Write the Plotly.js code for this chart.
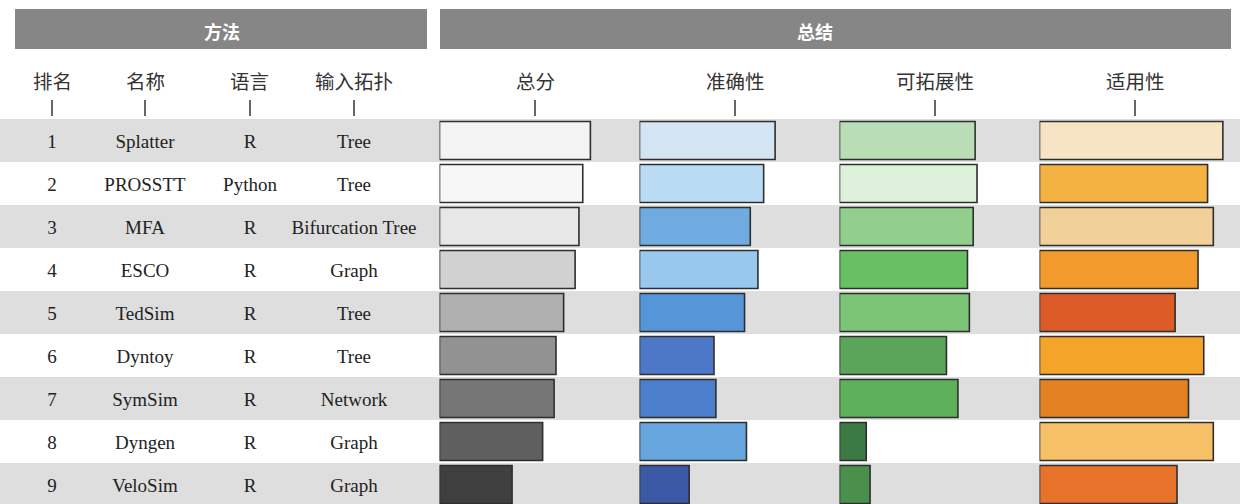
<!DOCTYPE html>
<html>
<head>
<meta charset="utf-8">
<script src="https://cdn.plot.ly/plotly-3.0.1.min.js"></script>
<style>html,body{margin:0;padding:0;background:#fff;}#chart{width:1240px;height:504px;}</style>
</head>
<body>
<div id="chart"></div>
<script>
// ---------- data ----------
const ranks = [1, 2, 3, 4, 5, 6, 7, 8, 9];
const names = ["Splatter", "PROSSTT", "MFA", "ESCO", "TedSim", "Dyntoy", "SymSim", "Dyngen", "VeloSim"];
const languages = ["R", "Python", "R", "R", "R", "R", "R", "R", "R"];
const topologies = ["Tree", "Tree", "Bifurcation Tree", "Graph", "Tree", "Tree", "Network", "Graph", "Graph"];

const overall     = [0.79, 0.75, 0.73, 0.71, 0.65, 0.61, 0.60, 0.54, 0.38];
const accuracy    = [0.71, 0.65, 0.58, 0.62, 0.55, 0.39, 0.40, 0.56, 0.26];
const scalability = [0.71, 0.72, 0.70, 0.67, 0.68, 0.56, 0.62, 0.14, 0.16];
const usability   = [0.96, 0.88, 0.91, 0.83, 0.71, 0.86, 0.78, 0.91, 0.72];

const groupLabels = ["方法", "总结"];
const methodHeaders = ["排名", "名称", "语言", "输入拓扑"];
const summaryHeaders = ["总分", "准确性", "可拓展性", "适用性"];

// ---------- styles ----------
const overallColors     = ["#f3f3f3", "#f7f7f7", "#e8e7e8", "#d1d1d1", "#b0b0b0", "#929292", "#767677", "#5f5f60", "#3f3f40"];
const accuracyColors    = ["#d3e4f3", "#b9dbf3", "#6faae0", "#98c8ed", "#5596d9", "#4d78c8", "#4b7ecb", "#66a5dd", "#3c59a6"];
const scalabilityColors = ["#b9ddb4", "#def1db", "#92cf8c", "#68c062", "#7dc576", "#5aa55a", "#5db15b", "#3c7a43", "#4a8f4c"];
const usabilityColors   = ["#f6e4c5", "#f4b243", "#f1d09a", "#f29a2b", "#dc5b27", "#f5a42a", "#e38123", "#f6c066", "#e7722a"];

const W = 1240, H = 504;
const methodColX = [52, 145, 250, 354];          // pixel centres of text columns
const barStart = [439.5, 639.5, 839.5, 1039.5];  // pixel starts of bar columns
const barFull = 191;                              // pixels for value 1
const rowTop = 119, rowH = 43;
const textDrop = 0.06;                            // row-text baseline nudge (rows)
const serif = "Liberation Serif, Times New Roman, serif";
const cjk = "Noto Sans CJK SC, sans-serif";

const py = p => 1 - p / H;
const yAt = p => 1 + (p - (rowTop + rowH / 2)) / rowH;

const traces = [];
const textCols = [ranks.map(String), names, languages, topologies];
textCols.forEach((col, i) => {
  traces.push({
    type: "scatter", mode: "text", xaxis: "x", yaxis: "y",
    x: ranks.map(() => methodColX[i]), y: ranks.map(r => r + textDrop), text: col,
    textposition: "middle center",
    textfont: {family: serif, size: 19, color: "#222"},
    hoverinfo: "skip"
  });
});

const series = [overall, accuracy, scalability, usability];
const colors = [overallColors, accuracyColors, scalabilityColors, usabilityColors];
series.forEach((vals, i) => {
  traces.push({
    type: "bar", orientation: "h", xaxis: "x" + (i + 2), yaxis: "y",
    x: vals, y: ranks, width: 0.885, base: 0,
    marker: {color: colors[i], line: {color: "#2e2e2e", width: 1.6}},
    hoverinfo: "skip"
  });
});

const shapes = [];
ranks.forEach(r => {
  if (r % 2 === 1) {
    shapes.push({type: "rect", layer: "below", xref: "paper", yref: "y",
      x0: 0, x1: 1, y0: r - 0.5, y1: r + 0.5, fillcolor: "#dedede", line: {width: 0}});
  }
});
shapes.push({type: "rect", xref: "paper", yref: "paper", x0: 15 / W, x1: 427 / W, y0: py(49), y1: py(9), fillcolor: "#868686", line: {width: 0}});
shapes.push({type: "rect", xref: "paper", yref: "paper", x0: 440 / W, x1: 1231 / W, y0: py(49), y1: py(9), fillcolor: "#868686", line: {width: 0}});

const headerX = methodColX.concat(barStart.map(s => s + 95.5));
const headerText = methodHeaders.concat(summaryHeaders);
headerX.forEach(x => {
  shapes.push({type: "line", xref: "paper", yref: "paper", x0: x / W, x1: x / W, y0: py(100), y1: py(116), line: {color: "#333", width: 1.5}});
});

const annotations = [];
annotations.push({xref: "paper", yref: "paper", x: 222 / W, y: py(31), text: "<b>" + groupLabels[0] + "</b>", showarrow: false, font: {family: cjk, size: 18, color: "#fff"}, xanchor: "center", yanchor: "middle"});
annotations.push({xref: "paper", yref: "paper", x: 815 / W, y: py(31), text: "<b>" + groupLabels[1] + "</b>", showarrow: false, font: {family: cjk, size: 18, color: "#fff"}, xanchor: "center", yanchor: "middle"});
headerX.forEach((x, i) => {
  annotations.push({xref: "paper", yref: "paper", x: x / W, y: py(81), text: headerText[i], showarrow: false, font: {family: cjk, size: 19.5, color: "#333"}, xanchor: "center", yanchor: "middle"});
});

const hidden = {visible: false, fixedrange: true, showgrid: false, zeroline: false};
const layout = {
  width: W, height: H,
  margin: {l: 0, r: 0, t: 0, b: 0, pad: 0},
  paper_bgcolor: "#fff", plot_bgcolor: "rgba(0,0,0,0)",
  showlegend: false, barmode: "overlay",
  xaxis: Object.assign({}, hidden, {range: [0, W], domain: [0, 1], anchor: "y"}),
  yaxis: Object.assign({}, hidden, {range: [yAt(H), yAt(0)], domain: [0, 1], anchor: "x"}),
  shapes: shapes, annotations: annotations
};
barStart.forEach((s, i) => {
  layout["xaxis" + (i + 2)] = Object.assign({}, hidden, {range: [0, 1], domain: [s / W, (s + barFull) / W], anchor: "y"});
});

Plotly.newPlot("chart", traces, layout, {staticPlot: true, displayModeBar: false});
</script>
</body>
</html>
